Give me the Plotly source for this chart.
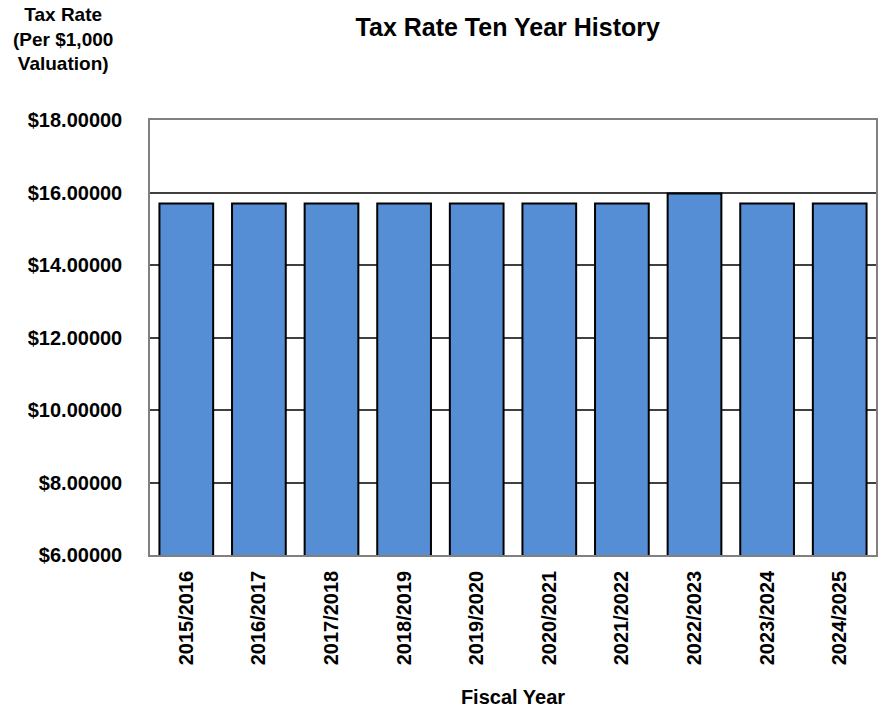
import plotly.graph_objects as go

years = ["2015/2016", "2016/2017", "2017/2018", "2018/2019", "2019/2020",
         "2020/2021", "2021/2022", "2022/2023", "2023/2024", "2024/2025"]
rates = [15.70, 15.70, 15.70, 15.70, 15.70, 15.70, 15.70, 15.97, 15.70, 15.70]
y_ticks = [6, 8, 10, 12, 14, 16, 18]

FONT = "Arial, Liberation Sans, sans-serif"

fig = go.Figure(go.Bar(
    x=years, y=rates,
    marker=dict(color="#558ed5", line=dict(color="#000000", width=2)),
))

fig.update_layout(
    width=883, height=713,
    margin=dict(l=150, r=5, t=120, b=158),
    paper_bgcolor="white", plot_bgcolor="white",
    bargap=0.26,
    showlegend=False,
    title=dict(text="Tax Rate Ten Year History", x=0.575, xanchor="center",
               y=0.962, yanchor="middle",
               font=dict(family=FONT, size=25, color="#000", weight="bold")),
    font=dict(family=FONT, color="#000"),
)

fig.update_yaxes(
    range=[6, 18], tickvals=y_ticks, tickformat="$.5f",
    tickfont=dict(family=FONT, size=20, weight="bold", color="#000"),
    ticklabelstandoff=22,
    showgrid=True, gridcolor="#404040", gridwidth=1.5,
    showline=True, linecolor="#808080", linewidth=1.5, mirror=True,
    ticks="", ticklen=0, zeroline=False,
)
fig.update_xaxes(
    tickangle=-90,
    tickfont=dict(family=FONT, size=20, weight="bold", color="#000"),
    ticklabelstandoff=6,
    showline=True, linecolor="#808080", linewidth=1.5, mirror=True,
    ticks="",
    title=dict(text="Fiscal Year", standoff=26,
               font=dict(family=FONT, size=20, weight="bold", color="#000")),
)

fig.add_annotation(
    text="Tax Rate<br>(Per $1,000<br>Valuation)",
    xref="paper", yref="paper", x=-0.12, y=1.271,
    xanchor="center", yanchor="top", showarrow=False, align="center",
    font=dict(family=FONT, size=19, weight="bold", color="#000"),
)

fig.write_html("out.html")
